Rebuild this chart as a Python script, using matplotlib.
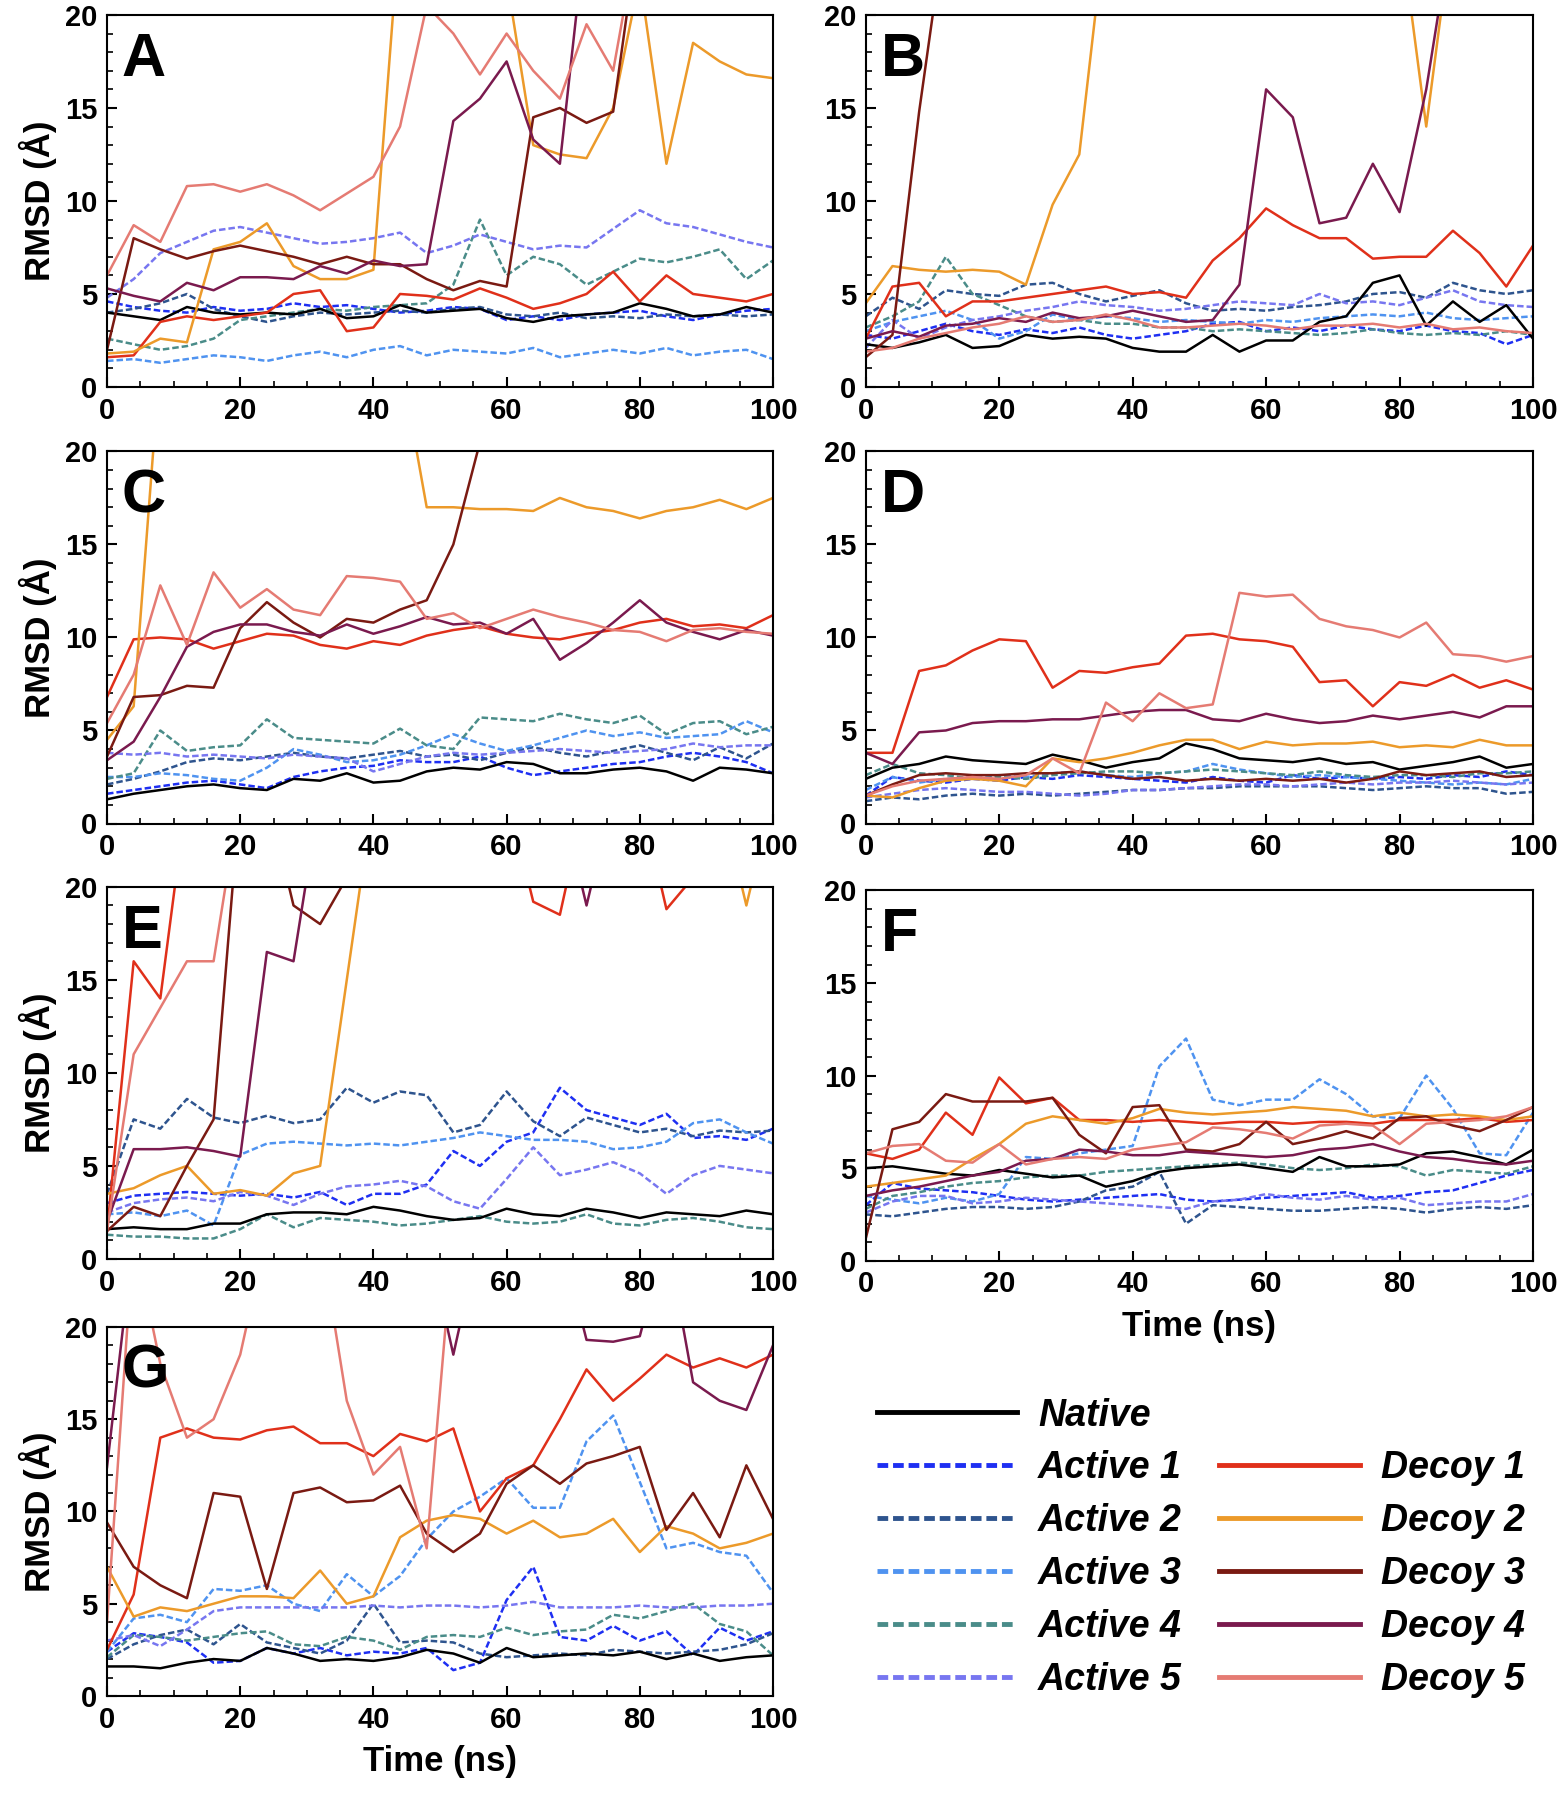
import numpy as np
import matplotlib
matplotlib.use("Agg")
import matplotlib.pyplot as plt
from matplotlib.lines import Line2D
from matplotlib.ticker import MultipleLocator

plt.rcParams['font.family'] = ['Liberation Sans', 'DejaVu Sans']
plt.rcParams['font.weight'] = 'bold'

# sampled every 4 ns; 25 = trajectory left the 0-20 A window
time_ns = [0, 4, 8, 12, 16, 20, 24, 28, 32, 36, 40, 44, 48, 52, 56, 60, 64, 68, 72, 76, 80, 84, 88, 92, 96, 100]

labels_active = ["Active 1", "Active 2", "Active 3", "Active 4", "Active 5"]
labels_decoy = ["Decoy 1", "Decoy 2", "Decoy 3", "Decoy 4", "Decoy 5"]

# ---- panel A ----
A_native = [4.0, 3.8, 3.6, 4.3, 4.0, 3.9, 4.0, 3.9, 4.2, 3.7, 3.8, 4.4, 4.0, 4.1, 4.2, 3.7, 3.5, 3.8, 3.9, 4.0, 4.5, 4.2, 3.8, 3.9, 4.3, 4.0]
A_active = [
    [4.6, 4.3, 4.1, 4.0, 4.3, 4.1, 4.2, 4.5, 4.3, 4.4, 4.2, 4.0, 4.1, 4.3, 4.2, 3.6, 3.8, 3.6, 3.9, 4.0, 4.1, 3.8, 3.6, 3.9, 4.1, 4.2],
    [4.0, 4.2, 4.5, 5.0, 4.2, 3.8, 3.5, 3.8, 4.0, 3.9, 4.0, 4.1, 4.0, 4.2, 4.3, 3.9, 3.8, 4.0, 3.7, 3.8, 3.7, 3.9, 3.8, 3.9, 3.8, 3.9],
    [1.4, 1.5, 1.3, 1.5, 1.7, 1.6, 1.4, 1.7, 1.9, 1.6, 2.0, 2.2, 1.7, 2.0, 1.9, 1.8, 2.1, 1.6, 1.8, 2.0, 1.8, 2.1, 1.7, 1.9, 2.0, 1.5],
    [2.6, 2.3, 2.0, 2.2, 2.6, 3.6, 3.8, 4.0, 4.2, 4.1, 4.3, 4.4, 4.5, 5.5, 9.0, 6.0, 7.0, 6.6, 5.5, 6.2, 6.9, 6.7, 7.0, 7.4, 5.8, 6.8],
    [4.8, 5.8, 7.2, 7.8, 8.4, 8.6, 8.3, 8.0, 7.7, 7.8, 8.0, 8.3, 7.2, 7.6, 8.2, 7.8, 7.4, 7.6, 7.5, 8.5, 9.5, 8.8, 8.6, 8.2, 7.8, 7.5],
]
A_decoy = [
    [1.6, 1.7, 3.5, 3.8, 3.6, 3.8, 4.0, 5.0, 5.2, 3.0, 3.2, 5.0, 4.9, 4.7, 5.3, 4.8, 4.2, 4.5, 5.0, 6.2, 4.6, 6.0, 5.0, 4.8, 4.6, 5.0],
    [1.8, 1.9, 2.6, 2.4, 7.4, 7.8, 8.8, 6.5, 5.8, 5.8, 6.3, 25, 25, 25, 25, 22, 13.0, 12.5, 12.3, 15.0, 22, 12.0, 18.5, 17.5, 16.8, 16.6],
    [2.0, 8.0, 7.4, 6.9, 7.3, 7.6, 7.3, 7.0, 6.6, 7.0, 6.6, 6.6, 5.8, 5.2, 5.7, 5.4, 14.5, 15.0, 14.2, 14.8, 25, 25, 25, 25, 25, 25],
    [5.3, 4.9, 4.6, 5.6, 5.2, 5.9, 5.9, 5.8, 6.5, 6.1, 6.8, 6.5, 6.6, 14.3, 15.5, 17.5, 13.3, 12.0, 25, 25, 25, 25, 25, 25, 25, 25],
    [6.0, 8.7, 7.8, 10.8, 10.9, 10.5, 10.9, 10.3, 9.5, 10.4, 11.3, 14.0, 20.5, 19.0, 16.8, 19.0, 17.0, 15.5, 19.5, 17.0, 25, 25, 25, 25, 25, 25],
]

# ---- panel B ----
B_native = [2.3, 2.1, 2.4, 2.8, 2.1, 2.2, 2.8, 2.6, 2.7, 2.6, 2.1, 1.9, 1.9, 2.8, 1.9, 2.5, 2.5, 3.5, 3.8, 5.6, 6.0, 3.3, 4.6, 3.5, 4.4, 2.6]
B_active = [
    [2.8, 2.6, 3.0, 3.4, 3.0, 2.8, 3.1, 2.9, 3.2, 2.8, 2.6, 2.8, 3.0, 3.4, 3.5, 3.0, 3.2, 3.0, 3.3, 3.1, 3.0, 3.3, 3.0, 2.9, 2.3, 2.8],
    [3.8, 4.8, 4.2, 5.2, 5.0, 4.9, 5.5, 5.6, 5.0, 4.6, 4.9, 5.2, 4.5, 4.1, 4.2, 4.1, 4.3, 4.4, 4.6, 5.0, 5.1, 4.8, 5.6, 5.2, 5.0, 5.2],
    [3.0, 3.5, 3.8, 4.1, 3.6, 2.6, 3.0, 3.9, 3.6, 3.8, 3.7, 3.5, 3.6, 3.5, 3.4, 3.6, 3.5, 3.7, 3.8, 3.9, 3.8, 4.0, 3.7, 3.6, 3.7, 3.8],
    [3.2, 3.8, 4.6, 7.0, 5.0, 4.4, 3.8, 3.5, 3.6, 3.4, 3.4, 3.2, 3.2, 3.0, 3.1, 3.0, 2.9, 2.8, 2.9, 3.1, 2.9, 2.8, 2.9, 2.8, 3.0, 2.8],
    [2.1, 3.6, 2.6, 3.2, 3.6, 3.8, 4.1, 4.3, 4.6, 4.4, 4.3, 4.1, 4.2, 4.4, 4.6, 4.5, 4.4, 5.0, 4.5, 4.6, 4.4, 4.8, 5.2, 4.6, 4.4, 4.3],
]
B_decoy = [
    [2.6, 5.4, 5.6, 3.8, 4.6, 4.6, 4.8, 5.0, 5.2, 5.4, 5.0, 5.1, 4.8, 6.8, 8.0, 9.6, 8.7, 8.0, 8.0, 6.9, 7.0, 7.0, 8.4, 7.2, 5.4, 7.6],
    [4.5, 6.5, 6.3, 6.2, 6.3, 6.2, 5.5, 9.8, 12.5, 25, 25, 25, 25, 25, 25, 25, 25, 25, 25, 25, 25, 14.0, 25, 25, 25, 25],
    [1.6, 2.8, 14.8, 25, 25, 25, 25, 25, 25, 25, 25, 25, 25, 25, 25, 25, 25, 25, 25, 25, 25, 25, 25, 25, 25, 25],
    [2.6, 3.0, 2.7, 3.3, 3.4, 3.7, 3.5, 4.0, 3.7, 3.8, 4.1, 3.8, 3.5, 3.6, 5.5, 16.0, 14.5, 8.8, 9.1, 12.0, 9.4, 16.0, 25, 25, 25, 25],
    [1.9, 2.1, 2.6, 2.9, 3.2, 3.4, 3.8, 3.5, 3.6, 3.9, 3.6, 3.2, 3.2, 3.3, 3.4, 3.3, 3.1, 3.3, 3.3, 3.4, 3.2, 3.4, 3.1, 3.2, 3.0, 2.9],
]

# ---- panel C ----
C_native = [1.3, 1.6, 1.8, 2.0, 2.1, 1.9, 1.8, 2.4, 2.3, 2.7, 2.2, 2.3, 2.8, 3.0, 2.9, 3.3, 3.2, 2.7, 2.7, 2.9, 3.0, 2.8, 2.3, 3.0, 2.9, 2.7]
C_active = [
    [1.6, 1.8, 2.0, 2.2, 2.3, 2.1, 1.9, 2.5, 2.8, 3.0, 3.1, 3.4, 3.3, 3.3, 3.6, 3.0, 2.6, 2.8, 3.0, 3.2, 3.3, 3.6, 3.8, 3.6, 3.3, 2.7],
    [2.1, 2.4, 2.8, 3.3, 3.5, 3.4, 3.6, 3.8, 3.6, 3.5, 3.7, 3.9, 3.6, 3.7, 3.4, 3.8, 4.1, 3.8, 3.6, 3.9, 4.2, 3.8, 3.4, 4.1, 3.5, 4.3],
    [2.5, 2.5, 2.7, 2.6, 2.4, 2.3, 3.0, 4.0, 3.7, 3.3, 3.4, 3.7, 4.2, 4.8, 4.3, 3.9, 4.2, 4.6, 5.0, 4.7, 4.9, 4.6, 4.7, 4.8, 5.5, 4.9],
    [2.4, 2.7, 5.0, 3.9, 4.1, 4.2, 5.6, 4.6, 4.5, 4.4, 4.3, 5.1, 4.2, 4.0, 5.7, 5.6, 5.5, 5.9, 5.6, 5.4, 5.8, 4.8, 5.4, 5.5, 4.8, 5.2],
    [3.8, 3.7, 3.8, 3.6, 3.7, 3.6, 3.5, 3.7, 3.6, 3.5, 2.8, 3.2, 3.6, 3.8, 3.7, 3.8, 3.9, 4.0, 3.9, 3.8, 3.9, 4.0, 4.3, 4.1, 4.2, 4.2],
]
C_decoy = [
    [6.8, 9.9, 10.0, 9.9, 9.4, 9.8, 10.2, 10.1, 9.6, 9.4, 9.8, 9.6, 10.1, 10.4, 10.6, 10.2, 10.0, 9.9, 10.2, 10.4, 10.8, 11.0, 10.6, 10.7, 10.5, 11.2],
    [4.5, 6.3, 25, 25, 25, 25, 25, 25, 25, 25, 25, 25, 17.0, 17.0, 16.9, 16.9, 16.8, 17.5, 17.0, 16.8, 16.4, 16.8, 17.0, 17.4, 16.9, 17.5],
    [3.6, 6.8, 6.9, 7.4, 7.3, 10.5, 11.9, 10.8, 10.0, 11.0, 10.8, 11.5, 12.0, 15.0, 20.5, 25, 25, 25, 25, 25, 25, 25, 25, 25, 25, 25],
    [3.4, 4.4, 6.8, 9.5, 10.3, 10.7, 10.7, 10.3, 10.1, 10.7, 10.2, 10.6, 11.1, 10.7, 10.8, 10.2, 11.0, 8.8, 9.7, 10.8, 12.0, 10.8, 10.3, 9.9, 10.4, 10.1],
    [5.4, 8.0, 12.8, 9.6, 13.5, 11.6, 12.6, 11.5, 11.2, 13.3, 13.2, 13.0, 11.0, 11.3, 10.5, 11.0, 11.5, 11.1, 10.8, 10.4, 10.3, 9.8, 10.4, 10.5, 10.3, 10.2],
]

# ---- panel D ----
D_native = [2.4, 3.0, 3.2, 3.6, 3.4, 3.3, 3.2, 3.7, 3.4, 3.0, 3.3, 3.5, 4.3, 4.0, 3.5, 3.4, 3.3, 3.5, 3.2, 3.3, 2.9, 3.1, 3.3, 3.6, 3.0, 3.2]
D_active = [
    [1.5, 2.5, 2.3, 2.2, 2.4, 2.3, 2.5, 2.4, 2.6, 2.5, 2.4, 2.3, 2.2, 2.5, 2.3, 2.2, 2.6, 2.4, 2.5, 2.4, 2.5, 2.4, 2.6, 2.5, 2.8, 2.6],
    [1.2, 1.4, 1.3, 1.5, 1.6, 1.5, 1.6, 1.5, 1.6, 1.7, 1.8, 1.8, 1.9, 1.9, 2.0, 2.0, 2.0, 2.0, 1.9, 1.8, 1.9, 2.0, 1.9, 1.9, 1.6, 1.7],
    [1.8, 2.5, 2.2, 2.4, 2.5, 2.6, 2.5, 2.7, 2.8, 2.6, 2.5, 2.7, 2.8, 3.2, 2.9, 2.7, 2.5, 2.6, 2.5, 2.4, 2.3, 2.2, 2.1, 2.2, 2.1, 2.4],
    [2.6, 3.2, 2.7, 2.6, 2.4, 2.5, 2.4, 2.6, 2.7, 2.8, 2.8, 2.7, 2.8, 2.9, 2.8, 2.7, 2.6, 2.8, 2.6, 2.5, 2.6, 2.6, 2.5, 2.7, 2.7, 2.8],
    [1.4, 1.6, 1.8, 1.9, 1.8, 1.7, 1.7, 1.6, 1.5, 1.6, 1.8, 1.8, 1.9, 2.0, 2.1, 2.1, 2.0, 2.1, 2.2, 2.1, 2.2, 2.2, 2.3, 2.2, 2.1, 2.2],
]
D_decoy = [
    [3.8, 3.8, 8.2, 8.5, 9.3, 9.9, 9.8, 7.3, 8.2, 8.1, 8.4, 8.6, 10.1, 10.2, 9.9, 9.8, 9.5, 7.6, 7.7, 6.3, 7.6, 7.4, 8.0, 7.3, 7.7, 7.2],
    [1.5, 1.4, 1.9, 2.3, 2.4, 2.3, 2.0, 3.5, 3.3, 3.5, 3.8, 4.2, 4.5, 4.5, 4.0, 4.4, 4.2, 4.3, 4.3, 4.4, 4.1, 4.2, 4.1, 4.5, 4.2, 4.2],
    [1.5, 2.1, 2.6, 2.7, 2.6, 2.6, 2.7, 2.7, 2.8, 2.6, 2.4, 2.5, 2.3, 2.4, 2.3, 2.4, 2.3, 2.4, 2.2, 2.4, 2.8, 2.6, 2.7, 2.8, 2.5, 2.6],
    [3.8, 3.2, 4.9, 5.0, 5.4, 5.5, 5.5, 5.6, 5.6, 5.8, 6.0, 6.1, 6.1, 5.6, 5.5, 5.9, 5.6, 5.4, 5.5, 5.8, 5.6, 5.8, 6.0, 5.7, 6.3, 6.3],
    [1.5, 2.0, 2.3, 2.4, 2.5, 2.4, 2.6, 3.5, 2.7, 6.5, 5.5, 7.0, 6.2, 6.4, 12.4, 12.2, 12.3, 11.0, 10.6, 10.4, 10.0, 10.8, 9.1, 9.0, 8.7, 9.0],
]

# ---- panel E ----
E_native = [1.6, 1.7, 1.6, 1.6, 1.9, 1.9, 2.4, 2.5, 2.5, 2.4, 2.8, 2.6, 2.3, 2.1, 2.2, 2.7, 2.4, 2.3, 2.7, 2.5, 2.2, 2.5, 2.4, 2.3, 2.6, 2.4]
E_active = [
    [3.0, 3.4, 3.5, 3.6, 3.5, 3.4, 3.5, 3.3, 3.6, 2.9, 3.5, 3.5, 4.0, 5.8, 5.0, 6.3, 6.8, 9.2, 8.0, 7.6, 7.2, 7.8, 6.5, 6.6, 6.4, 7.0],
    [3.5, 7.5, 7.0, 8.6, 7.6, 7.3, 7.7, 7.3, 7.5, 9.2, 8.4, 9.0, 8.8, 6.8, 7.2, 9.0, 7.4, 6.6, 7.6, 7.2, 6.8, 7.0, 6.6, 6.9, 6.8, 6.9],
    [2.4, 2.5, 2.3, 2.6, 1.8, 5.6, 6.2, 6.3, 6.2, 6.1, 6.2, 6.1, 6.3, 6.5, 6.8, 6.6, 6.4, 6.4, 6.3, 5.9, 6.0, 6.3, 7.3, 7.5, 6.8, 6.2],
    [1.3, 1.2, 1.2, 1.1, 1.1, 1.6, 2.4, 1.7, 2.2, 2.1, 2.0, 1.8, 1.9, 2.1, 2.3, 2.0, 1.9, 2.0, 2.4, 1.9, 1.8, 2.1, 2.2, 2.0, 1.7, 1.6],
    [2.5, 3.0, 3.2, 3.3, 3.1, 3.6, 3.4, 2.9, 3.5, 3.9, 4.0, 4.2, 3.9, 3.1, 2.7, 4.3, 6.0, 4.5, 4.8, 5.2, 4.6, 3.5, 4.5, 5.0, 4.8, 4.6],
]
E_decoy = [
    [1.5, 16.0, 14.0, 25, 25, 25, 25, 25, 25, 25, 25, 25, 25, 25, 25, 25, 19.2, 18.5, 25, 25, 25, 18.8, 20.5, 25, 25, 25],
    [3.5, 3.8, 4.5, 5.0, 3.5, 3.7, 3.4, 4.6, 5.0, 15.0, 25, 25, 25, 25, 25, 25, 25, 25, 25, 25, 25, 25, 25, 25, 19.0, 25],
    [1.5, 2.8, 2.3, 5.0, 7.5, 25, 25, 19.0, 18.0, 20.5, 25, 25, 25, 25, 25, 25, 25, 25, 25, 25, 25, 25, 25, 25, 25, 25],
    [2.0, 5.9, 5.9, 6.0, 5.8, 5.5, 16.5, 16.0, 25, 25, 25, 25, 25, 25, 25, 25, 25, 25, 19.0, 25, 25, 25, 25, 25, 25, 25],
    [1.5, 11.0, 13.5, 16.0, 16.0, 25, 25, 25, 25, 25, 25, 25, 25, 25, 25, 25, 25, 25, 25, 25, 25, 25, 25, 25, 25, 25],
]

# ---- panel F ----
F_native = [5.0, 5.1, 4.9, 4.7, 4.6, 4.9, 4.7, 4.5, 4.6, 4.0, 4.3, 4.8, 5.0, 5.1, 5.2, 5.0, 4.8, 5.6, 5.1, 5.1, 5.2, 5.8, 5.9, 5.6, 5.2, 6.0]
F_active = [
    [3.0, 4.2, 3.9, 3.8, 3.7, 3.5, 3.3, 3.2, 3.3, 3.4, 3.5, 3.6, 3.3, 3.2, 3.3, 3.4, 3.5, 3.6, 3.7, 3.4, 3.5, 3.7, 3.8, 4.2, 4.6, 4.9],
    [2.5, 2.4, 2.6, 2.8, 2.9, 2.9, 2.8, 2.9, 3.2, 3.8, 4.0, 4.8, 2.0, 3.0, 2.9, 2.8, 2.7, 2.7, 2.8, 2.9, 2.8, 2.6, 2.8, 2.9, 2.8, 3.0],
    [3.5, 3.3, 3.1, 3.4, 3.2, 3.6, 5.6, 5.5, 5.8, 6.0, 6.2, 10.5, 12.0, 8.7, 8.4, 8.7, 8.7, 9.8, 9.0, 7.8, 7.7, 10.0, 8.2, 5.8, 5.7, 8.0],
    [2.8, 3.5, 3.7, 4.0, 4.2, 4.3, 4.5, 4.6, 4.6, 4.8, 4.9, 5.0, 5.1, 5.2, 5.3, 5.2, 5.0, 4.9, 5.0, 5.2, 5.1, 4.6, 4.9, 4.8, 4.7, 5.1],
    [2.6, 3.2, 3.5, 3.5, 3.1, 3.2, 3.4, 3.3, 3.2, 3.1, 3.0, 2.9, 2.8, 3.2, 3.3, 3.6, 3.4, 3.3, 3.5, 3.3, 3.4, 3.0, 3.1, 3.2, 3.2, 3.6],
]
F_decoy = [
    [5.8, 5.5, 6.0, 8.0, 6.8, 9.9, 8.5, 8.8, 7.6, 7.6, 7.5, 7.6, 7.5, 7.4, 7.5, 7.5, 7.4, 7.5, 7.5, 7.4, 7.6, 7.6, 7.6, 7.7, 7.5, 7.6],
    [4.0, 4.2, 4.4, 4.6, 5.5, 6.3, 7.4, 7.8, 7.6, 7.4, 7.7, 8.2, 8.0, 7.9, 8.0, 8.1, 8.3, 8.2, 8.1, 7.8, 8.0, 7.8, 7.9, 7.8, 7.6, 7.8],
    [1.2, 7.1, 7.5, 9.0, 8.6, 8.6, 8.6, 8.8, 6.8, 5.8, 8.3, 8.4, 6.0, 5.9, 6.3, 7.5, 6.3, 6.6, 7.0, 6.6, 7.7, 7.8, 7.3, 7.0, 7.6, 8.3],
    [3.5, 3.8, 4.0, 4.3, 4.6, 4.8, 5.4, 5.5, 6.0, 5.9, 5.7, 5.7, 5.9, 5.8, 5.7, 5.6, 5.7, 6.0, 6.1, 6.3, 5.9, 5.6, 5.5, 5.3, 5.2, 5.4],
    [5.8, 6.2, 6.3, 5.4, 5.3, 6.3, 5.2, 5.5, 5.6, 5.5, 6.0, 6.2, 6.4, 7.2, 7.1, 6.9, 6.6, 7.3, 7.4, 7.3, 6.3, 7.4, 7.5, 7.6, 7.8, 8.3],
]

# ---- panel G ----
G_native = [1.6, 1.6, 1.5, 1.8, 2.0, 1.9, 2.6, 2.3, 1.9, 2.0, 1.9, 2.1, 2.5, 2.3, 1.8, 2.6, 2.1, 2.2, 2.3, 2.2, 2.4, 2.0, 2.3, 1.9, 2.1, 2.2]
G_active = [
    [2.4, 3.4, 3.2, 2.9, 1.8, 1.9, 2.6, 2.3, 2.6, 2.2, 2.4, 2.3, 2.6, 1.4, 1.8, 5.2, 7.0, 3.2, 3.0, 3.8, 3.0, 3.5, 2.2, 3.7, 3.0, 3.5],
    [2.0, 2.8, 3.3, 3.6, 2.8, 3.9, 2.9, 2.6, 2.3, 3.0, 5.0, 2.9, 3.0, 2.9, 2.3, 2.1, 2.2, 2.3, 2.2, 2.5, 2.4, 2.3, 2.4, 2.5, 2.8, 3.4],
    [2.4, 4.2, 4.4, 4.0, 5.8, 5.7, 6.0, 5.0, 4.6, 6.6, 5.4, 6.5, 8.5, 10.0, 10.8, 11.8, 10.2, 10.2, 13.8, 15.2, 11.6, 8.0, 8.3, 7.8, 7.6, 5.6],
    [2.1, 3.3, 3.2, 3.0, 3.2, 3.4, 3.5, 2.8, 2.7, 3.2, 3.0, 2.5, 3.2, 3.3, 3.2, 3.7, 3.3, 3.5, 3.6, 4.4, 4.2, 4.6, 5.0, 3.9, 3.5, 2.2],
    [3.0, 3.3, 2.7, 3.6, 4.6, 4.8, 4.8, 4.8, 4.8, 4.8, 4.9, 4.8, 4.9, 4.9, 4.8, 4.9, 5.1, 4.8, 4.8, 4.8, 4.9, 4.8, 4.8, 4.9, 4.9, 5.0],
]
G_decoy = [
    [2.5, 5.5, 14.0, 14.5, 14.0, 13.9, 14.4, 14.6, 13.7, 13.7, 13.0, 14.2, 13.8, 14.5, 10.0, 11.8, 12.5, 15.0, 17.7, 16.0, 17.2, 18.5, 17.8, 18.3, 17.8, 18.5],
    [7.0, 4.3, 4.8, 4.6, 5.0, 5.4, 5.4, 5.3, 6.8, 5.0, 5.4, 8.6, 9.5, 9.8, 9.6, 8.8, 9.5, 8.6, 8.8, 9.6, 7.8, 9.2, 8.8, 8.0, 8.3, 8.8],
    [9.4, 7.0, 6.0, 5.3, 11.0, 10.8, 5.8, 11.0, 11.3, 10.5, 10.6, 11.4, 8.8, 7.8, 8.8, 11.5, 12.5, 11.5, 12.6, 13.0, 13.5, 9.0, 11.0, 8.6, 12.5, 9.6],
    [12.4, 25, 25, 25, 25, 25, 25, 25, 25, 25, 25, 25, 25, 18.5, 25, 25, 25, 25, 19.3, 19.2, 19.5, 25, 17.0, 16.0, 15.5, 19.0],
    [4.0, 25, 18.0, 14.0, 15.0, 18.5, 25, 25, 25, 16.0, 12.0, 13.5, 8.0, 25, 25, 25, 25, 25, 25, 25, 25, 25, 25, 25, 25, 25],
]

native_color = "black"
active_colors = ["#1e2ff2", "#2e548e", "#4f93f0", "#4a8c89", "#7776f0"]
decoy_colors = ["#e0301a", "#ec9a2a", "#7a1a12", "#7a1a4e", "#e57b73"]

LW = 1.8
DASH = (2.6, 1.2)


def draw_panel(ax, native, actives, decoys, letter, ylabel=False, xlabel=False):
    for vals, col in zip(actives, active_colors):
        ax.plot(time_ns, vals, color=col, lw=LW, ls=(0, DASH))
    ax.plot(time_ns, native, color=native_color, lw=LW)
    for vals, col in zip(decoys, decoy_colors):
        ax.plot(time_ns, vals, color=col, lw=LW)

    ax.set_xlim(0, 100)
    ax.set_ylim(0, 20)
    ax.xaxis.set_major_locator(MultipleLocator(20))
    ax.xaxis.set_minor_locator(MultipleLocator(5))
    ax.yaxis.set_major_locator(MultipleLocator(5))
    ax.yaxis.set_minor_locator(MultipleLocator(1))
    ax.tick_params(which='major', direction='in', length=7, width=1.5, labelsize=21, pad=7)
    ax.tick_params(which='minor', direction='in', length=4, width=1.2)
    for lab in ax.get_xticklabels() + ax.get_yticklabels():
        lab.set_fontweight('bold')
    for sp in ax.spines.values():
        sp.set_linewidth(1.5)
    ax.text(0.022, 0.955, letter, transform=ax.transAxes, ha='left', va='top',
            fontsize=44, fontweight='bold')
    if ylabel:
        ax.set_ylabel("RMSD (Å)", fontsize=25, fontweight='bold', labelpad=6)
    if xlabel:
        ax.set_xlabel("Time (ns)", fontsize=25, fontweight='bold', labelpad=8)


fig = plt.figure(figsize=(15.67, 18), dpi=100)

left_x, right_x = 0.0683, 0.5525
w_left, w_right = 0.4250, 0.4258
h = 0.2067
rows = [0.785, 0.5425, 0.3006]

axA = fig.add_axes([left_x, rows[0], w_left, h])
axB = fig.add_axes([right_x, rows[0], w_right, h])
axC = fig.add_axes([left_x, rows[1], w_left, h])
axD = fig.add_axes([right_x, rows[1], w_right, h])
axE = fig.add_axes([left_x, rows[2], w_left, h])
axF = fig.add_axes([right_x, rows[2] - 0.001, w_right, h - 0.001])
axG = fig.add_axes([left_x, 0.0578, w_left, 0.205])

draw_panel(axA, A_native, A_active, A_decoy, "A", ylabel=True)
draw_panel(axB, B_native, B_active, B_decoy, "B")
draw_panel(axC, C_native, C_active, C_decoy, "C", ylabel=True)
draw_panel(axD, D_native, D_active, D_decoy, "D")
draw_panel(axE, E_native, E_active, E_decoy, "E", ylabel=True)
draw_panel(axF, F_native, F_active, F_decoy, "F", xlabel=True)
draw_panel(axG, G_native, G_active, G_decoy, "G", ylabel=True, xlabel=True)

# legend: column 1 native + actives, column 2 blank + decoys
handles = [Line2D([], [], color=native_color, lw=3.5)]
handles += [Line2D([], [], color=c, lw=3.5, ls=(0, (2.2, 1.0))) for c in active_colors]
handles += [Line2D([], [], color='none')]
handles += [Line2D([], [], color=c, lw=3.5) for c in decoy_colors]
labels = ["Native"] + labels_active + [""] + labels_decoy

fig.legend(handles, labels, loc='upper left', bbox_to_anchor=(0.5475, 0.234), ncol=2,
           frameon=False, handlelength=3.75, handletextpad=0.55, columnspacing=1.0,
           labelspacing=0.45, borderpad=0,
           prop={'weight': 'bold', 'style': 'italic', 'size': 27})

fig.savefig("out.png", dpi=100)
